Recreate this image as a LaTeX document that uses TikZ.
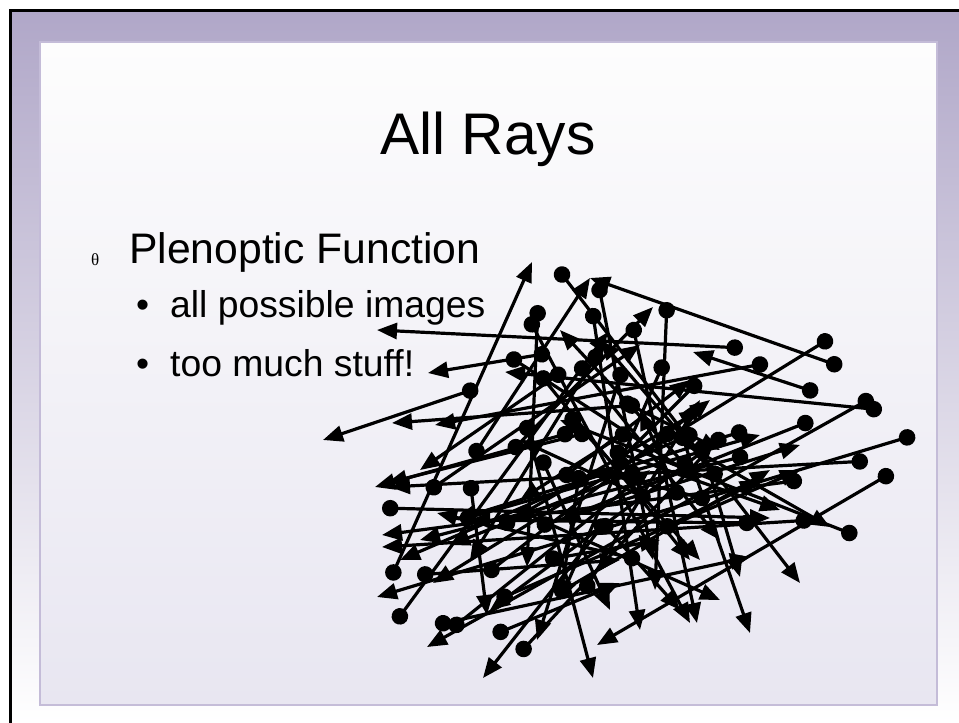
\documentclass[tikz,border=0pt]{standalone}
\usepackage{fontspec}
\setmainfont{Liberation Sans}
\newfontfamily\thetafont{Liberation Serif}
\usetikzlibrary{arrows.meta}

\definecolor{slidetop}{RGB}{176,167,200}
\definecolor{paneltop}{RGB}{253,253,253}
\definecolor{panelbot}{RGB}{232,230,241}
\definecolor{panelline}{RGB}{196,188,216}

\begin{document}
\begin{tikzpicture}[
  x=1pt, y=-1pt,
  ray/.style={line width=3.2pt, {Circle[length=16.5pt]}-{Triangle[length=20pt,width=16pt]}},
  txt/.style={inner sep=0pt, anchor=base west},
  lvlone/.style={txt, font=\fontsize{42.7}{50}\selectfont},
  lvltwo/.style={txt, font=\fontsize{37.3}{44}\selectfont}
]
  \useasboundingbox (0,0) rectangle (959,723);
  \fill[white] (0,0) rectangle (959,723);
  \shade[top color=slidetop, bottom color=white] (10,10) rectangle (959,723);
  \draw[line width=2.4pt] (10.5,723) -- (10.5,10.5) -- (959,10.5);
  \shade[top color=paneltop, bottom color=panelbot] (40,42) rectangle (937,705);
  \draw[panelline, line width=1.4pt] (40,42) rectangle (937,705);

  % title and bullets
  \node[inner sep=0pt, anchor=base, font=\fontsize{58.7}{70}\selectfont] (title) at (488,154) {All Rays};
  \node[txt, font=\thetafont\fontsize{17}{20}\selectfont] (theta) at (91,265) {θ};
  \node[lvlone] (plenoptic) at (129,263) {Plenoptic Function};
  \node[lvltwo] (bulleta) at (136,317) {•};
  \node[lvltwo] (images) at (170,317) {all possible images};
  \node[lvltwo] (bulletb) at (136,376) {•};
  \node[lvltwo] (stuff) at (170,376) {too much stuff!};

  % the rays
  \foreach \ax/\ay/\bx/\by in {
      743/348/377/330, 550/353/428/373, 478/388/323/440, 818/393/693/352,
      842/367/590/278, 893/472/597/645, 390/580/532/262, 557/268/800/583,
      832/337/433/583, 873/397/427/647, 882/410/505/372, 915/435/377/597,
      868/461/390/487, 802/480/382/535, 857/536/560/420, 812/520/382/547,
      768/363/435/425, 460/520/760/435, 510/453/653/307, 472/458/590/278,
      592/308/640/630, 538/305/527/567, 528/317/690/623, 632/322/697/623,
      607/520/483/678, 525/420/593/678, 640/405/392/423, 573/432/375/487,
      590/432/387/483, 382/508/770/518, 395/623/608/332, 435/625/750/557,
      660/430/830/527, 493/635/620/583, 518/655/713/445, 680/430/750/633,
      700/440/740/577, 470/480/487/615, 640/560/437/513, 417/575/620/560,
      507/355/700/480, 577/362/720/540, 623/367/537/640, 565/370/420/470,
      747/430/455/520, 725/435/490/610, 697/432/400/560, 748/455/420/540,
      755/523/470/520, 813/420/560/520, 427/492/640/345, 485/575/710/400,
      497/600/800/470, 450/630/650/470, 538/372/690/560, 600/350/470/560,
      665/360/560/600, 598/282/653/560, 667/302/655/590, 567/413/700/560,
      500/527/700/410, 518/510/720/600, 537/527/800/445, 555/595/770/470,
      583/593/700/400,
      640/470/450/545, 690/470/560/330, 720/480/600/340, 610/450/780/510,
      560/480/690/380, 650/500/520/440, 600/520/680/610, 540/455/610/610,
      630/430/520/500, 710/500/590/470, 660/530/760/480, 580/470/560/600,
      620/400/720/450, 545/560/660/540, 700/380/610/470, 680/500/640/410}
    \draw[ray] (\ax,\ay) -- (\bx,\by);
\end{tikzpicture}
\end{document}
